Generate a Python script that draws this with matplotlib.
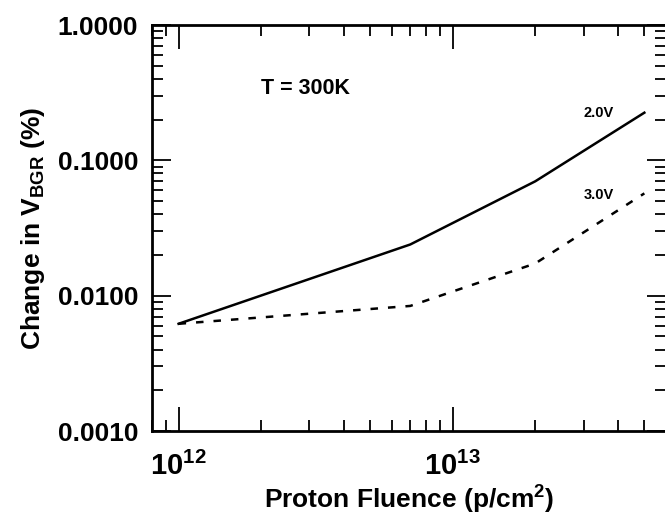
import matplotlib
matplotlib.use("Agg")
import matplotlib.pyplot as plt
from matplotlib.ticker import FixedLocator, LogLocator, NullFormatter
import numpy as np

plt.rcParams['font.family'] = ['Liberation Sans', 'DejaVu Sans']
plt.rcParams['font.weight'] = 'bold'
plt.rcParams['mathtext.fontset'] = 'custom'
plt.rcParams['mathtext.rm'] = 'Liberation Sans:bold'
plt.rcParams['mathtext.bf'] = 'Liberation Sans:bold'
plt.rcParams['mathtext.it'] = 'Liberation Sans:bold'

# fluence (p/cm^2) and change in V_BGR (%)
fluence = [1e12, 7e12, 2e13, 5e13]
v20 = [0.0062, 0.0239, 0.070, 0.225]
v30 = [0.0062, 0.0084, 0.0173, 0.057]

y_ticks = [0.001, 0.01, 0.1, 1.0]
y_labels = ["0.0010", "0.0100", "0.1000", "1.0000"]
x_ticks = [1e12, 1e13]
x_labels = [r"$\mathbf{10^{12}}$", r"$\mathbf{10^{13}}$"]

fig = plt.figure(figsize=(6.65, 5.21), dpi=100)
ax = fig.add_axes([0.2286, 0.1727, 0.773, 0.7793])

ax.plot(fluence, v20, color="black", lw=1.8, solid_joinstyle="miter")
ax.plot(fluence, v30, color="black", lw=1.8, ls=(0, (3, 4)))

ax.set_xscale("log")
ax.set_yscale("log")
ax.set_xlim(8e11, 6e13)
ax.set_ylim(0.001, 1.0)

ax.yaxis.set_major_locator(FixedLocator(y_ticks))
ax.set_yticklabels(y_labels)
ax.yaxis.set_minor_locator(LogLocator(base=10, subs=np.arange(2, 10)))
ax.yaxis.set_minor_formatter(NullFormatter())
ax.xaxis.set_major_locator(FixedLocator(x_ticks))
ax.set_xticklabels(x_labels)
ax.xaxis.set_minor_locator(LogLocator(base=10, subs=np.arange(2, 10)))
ax.xaxis.set_minor_formatter(NullFormatter())

for s in ax.spines.values():
    s.set_linewidth(2)
ax.tick_params(which="both", direction="in", top=True, right=True, width=1.3)
ax.tick_params(which="major", length=14, labelsize=19, pad=10)
ax.tick_params(which="minor", length=8)
ax.tick_params(axis="x", which="major", length=17, pad=15, labelsize=21)

ax.set_xlabel(r"Proton Fluence (p/cm$^{\mathbf{2}}$)", fontsize=19, fontweight="bold", labelpad=2)
ax.set_ylabel(r"Change in V$_{\mathbf{BGR}}$ (%)", fontsize=19, fontweight="bold", labelpad=8)

ax.text(2.9e12, 0.34, "T = 300K", fontsize=15.5, fontweight="bold", ha="center", va="center")
ax.text(3.4e13, 0.224, "2.0V", fontsize=10.5, fontweight="bold", ha="center", va="center")
ax.text(3.4e13, 0.0554, "3.0V", fontsize=10.5, fontweight="bold", ha="center", va="center")

fig.savefig("out.png", dpi=100)
